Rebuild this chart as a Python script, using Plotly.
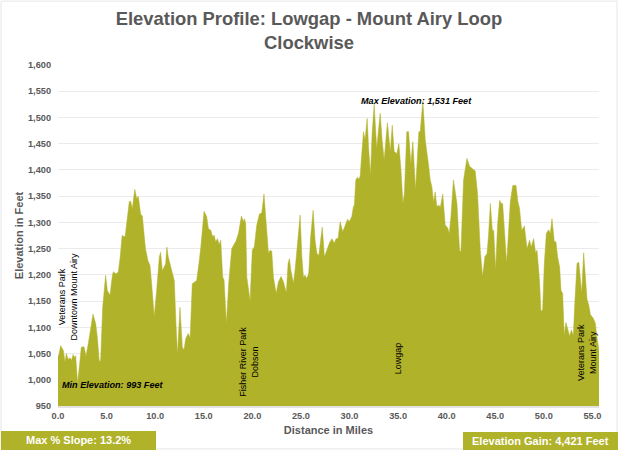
import plotly.graph_objects as go

# Values
miles = [0.0, 0.1, 0.27, 0.55, 0.72, 0.86, 1.06, 1.23, 1.4, 1.55, 1.68, 1.82, 2.02, 2.2, 2.4, 2.68, 2.88, 3.12,
         3.36, 3.6, 3.88, 4.05, 4.25, 4.39, 4.6, 4.9, 5.08, 5.35, 5.6, 5.7, 5.93, 6.2, 6.4, 6.6, 6.9, 7.13, 7.34,
         7.48, 7.65, 7.9, 8.1, 8.27, 8.5, 8.68, 8.85, 9.0, 9.26, 9.47, 9.64, 9.9, 10.15, 10.43, 10.56, 10.74, 11.08,
         11.2, 11.35, 11.7, 11.97, 12.14, 12.3, 12.55, 12.8, 12.97, 13.14, 13.4, 13.6, 13.82, 14.1, 14.27, 14.5,
         14.7, 15.03, 15.3, 15.48, 15.72, 15.92, 16.06, 16.23, 16.4, 16.6, 16.75, 16.95, 17.09, 17.33, 17.57, 17.88,
         18.16, 18.33, 18.57, 18.74, 18.88, 19.08, 19.18, 19.32, 19.43, 19.77, 20.0, 20.2, 20.46, 20.73, 20.97, 21.2,
         21.4, 21.66, 21.83, 22.0, 22.17, 22.45, 22.69, 22.96, 23.2, 23.5, 23.68, 23.82, 23.96, 24.16, 24.23, 24.4,
         24.64, 24.92, 25.1, 25.26, 25.43, 25.6, 25.8, 26.0, 26.26, 26.46, 26.64, 26.84, 27.2, 27.42, 27.67, 27.94,
         28.2, 28.42, 28.62, 28.82, 29.04, 29.3, 29.52, 29.8, 29.97, 30.24, 30.4, 30.5, 30.65, 30.82, 30.96, 31.1,
         31.24, 31.44, 31.6, 31.82, 31.96, 32.16, 32.33, 32.54, 32.8, 33.16, 33.36, 33.57, 33.9, 34.2, 34.4, 34.6,
         34.87, 35.08, 35.3, 35.5, 35.65, 35.9, 36.08, 36.32, 36.52, 36.8, 37.14, 37.28, 37.55, 37.8, 38.14, 38.31,
         38.48, 38.65, 38.82, 38.99, 39.2, 39.34, 39.6, 39.85, 40.1, 40.27, 40.44, 40.7, 41.06, 41.33, 41.47, 41.74,
         42.09, 42.36, 42.6, 42.94, 43.18, 43.46, 43.7, 43.94, 44.15, 44.3, 44.5, 44.7, 44.84, 45.04, 45.25, 45.45,
         45.62, 45.76, 45.97, 46.17, 46.38, 46.55, 46.8, 47.13, 47.34, 47.5, 47.72, 48.0, 48.27, 48.54, 48.7, 48.95,
         49.16, 49.3, 49.47, 49.57, 49.7, 49.88, 50.05, 50.26, 50.5, 50.67, 50.84, 51.08, 51.25, 51.42, 51.63, 51.77,
         51.94, 52.1, 52.28, 52.5, 52.66, 52.83, 53.04, 53.2, 53.42, 53.6, 53.9, 54.1, 54.27, 54.45, 54.62, 54.8,
         55.06, 55.3, 55.47, 55.68]
elevation = [1045, 1048, 1065, 1056, 1034, 1050, 1038, 1042, 1037, 1048, 1043, 1046, 993, 1030, 1062, 1063, 1045, 1069,
             1094, 1125, 1107, 1081, 1035, 1037, 1138, 1199, 1170, 1161, 1199, 1206, 1202, 1205, 1234, 1275, 1272, 1308, 1340,
             1340, 1326, 1363, 1345, 1350, 1316, 1312, 1270, 1250, 1227, 1218, 1183, 1120, 1170, 1234, 1243, 1208, 1221,
             1253, 1234, 1208, 1189, 1107, 1047, 1138, 1062, 1057, 1078, 1088, 1080, 1183, 1186, 1189, 1221,
             1253, 1321, 1311, 1288, 1285, 1272, 1276, 1263, 1269, 1258, 1266, 1196, 1190, 1107, 1184, 1250,
             1260, 1265, 1279, 1295, 1312, 1301, 1307, 1298, 1196, 1150, 1248, 1253, 1295, 1316, 1318, 1354,
             1298, 1241, 1247, 1245, 1196, 1165, 1187, 1197, 1187, 1166, 1222, 1231, 1209, 1193, 1184, 1209,
             1253, 1314, 1234, 1196, 1199, 1193, 1202, 1272, 1323, 1266, 1241, 1237, 1291, 1234, 1247, 1261,
             1269, 1260, 1269, 1269, 1301, 1282, 1292, 1306, 1301, 1311, 1330, 1333, 1381, 1386, 1382, 1388,
             1425, 1473, 1457, 1498, 1444, 1390, 1470, 1525, 1441, 1508, 1457, 1419, 1490, 1435, 1485, 1435,
             1431, 1450, 1400, 1336, 1355, 1473, 1473, 1412, 1454, 1362, 1473, 1473, 1531, 1457, 1409, 1381,
             1368, 1339, 1358, 1330, 1333, 1328, 1354, 1295, 1290, 1279, 1311, 1381, 1336, 1247, 1244, 1381,
             1422, 1407, 1403, 1398, 1355, 1247, 1197, 1235, 1240, 1272, 1336, 1285, 1285, 1209, 1298, 1342,
             1336, 1336, 1279, 1222, 1285, 1339, 1370, 1371, 1339, 1327, 1285, 1293, 1250, 1266, 1253, 1269,
             1241, 1247, 1209, 1185, 1131, 1133, 1221, 1279, 1286, 1279, 1307, 1263, 1263, 1234, 1215, 1170,
             1165, 1085, 1109, 1095, 1083, 1095, 1085, 1150, 1222, 1224, 1165, 1242, 1197, 1153, 1143, 1124,
             1118, 1108, 1080, 1056]

y_ticks = [950, 1000, 1050, 1100, 1150, 1200, 1250, 1300, 1350, 1400, 1450, 1500, 1550, 1600]
x_ticks = [0, 5, 10, 15, 20, 25, 30, 35, 40, 45, 50, 55]

# Size of the picture and the plot area, in pixels
WIDTH, HEIGHT = 618, 450
LEFT, RIGHT, TOP, BOTTOM = 58, 599, 64.5, 406

OLIVE = "#B0B22A"
GREY = "#595959"
GRID = "#EBEBEB"
FONT = "Liberation Sans"


# pixel position -> paper coordinates
def px(x):
    return (x - LEFT) / (RIGHT - LEFT)


def py(y):
    return (BOTTOM - y) / (BOTTOM - TOP)


fig = go.Figure()
fig.add_trace(go.Scatter(x=miles, y=elevation, mode="lines", fill="tozeroy",
                         fillcolor=OLIVE, line=dict(color=OLIVE, width=0.5),
                         hoverinfo="x+y", showlegend=False))

fig.update_layout(
    width=WIDTH, height=HEIGHT,
    margin=dict(l=LEFT, r=WIDTH - RIGHT, t=TOP, b=HEIGHT - BOTTOM, autoexpand=False),
    paper_bgcolor="white", plot_bgcolor="white",
    font=dict(family=FONT, color=GREY),
    title=dict(text="<b>Elevation Profile: Lowgap - Mount Airy Loop<br>Clockwise</b>",
               x=0.5, xanchor="center", y=0.945, yanchor="top",
               font=dict(family=FONT, size=18.4, color=GREY)),
    xaxis=dict(range=[0, 55.68], tickvals=x_ticks, tickformat=".1f", showgrid=False, zeroline=False,
               showline=True, linecolor="#E2E2E2", linewidth=2, ticks="",
               tickfont=dict(family=FONT, size=9.2, color=GREY, weight="bold"),
               title=dict(text="<b>Distance in Miles</b>", standoff=6, font=dict(size=11, color=GREY))),
    yaxis=dict(range=[950, 1600], tickvals=y_ticks, tickformat=",", showgrid=True, gridcolor=GRID, gridwidth=1.3,
               zeroline=False, ticks="", showline=False, ticklabelstandoff=6,
               tickfont=dict(family=FONT, size=9.2, color=GREY, weight="bold"),
               title=dict(text="<b>Elevation in Feet</b>", standoff=2, font=dict(size=11, color=GREY))),
)

# Labels on the chart
fig.add_annotation(x=31.0, y=1531, text="<b><i>Max Elevation: 1,531 Feet</i></b>", showarrow=False,
                   font=dict(size=9.1, color="black"), xanchor="left", yanchor="middle")
fig.add_annotation(x=0.2, y=990, text="<b><i>Min Elevation: 993 Feet</i></b>", showarrow=False,
                   font=dict(size=9.1, color="black"), xanchor="left", yanchor="middle")
for x, y, label in [(1.0, 1158, "Veterans Park<br>Downtown Mount Airy"),
                    (19.65, 1034, "Fisher River Park<br>Dobson"),
                    (35.0, 1041, "Lowgap"),
                    (54.45, 1051, "Veterans Park<br>Mount Airy")]:
    fig.add_annotation(x=x, y=y, text=label, textangle=-90, showarrow=False,
                       font=dict(size=9, color="black"), xanchor="center", yanchor="middle")

# Stat boxes below the plot
for x0, x1, y0, label in [(1, 156, 431, "Max % Slope: 13.2%"),
                          (463, 618, 432, "Elevation Gain: 4,421 Feet")]:
    fig.add_shape(type="rect", xref="paper", yref="paper", x0=px(x0), x1=px(x1), y0=py(y0), y1=py(450),
                  fillcolor=OLIVE, line=dict(width=0))
    fig.add_annotation(xref="paper", yref="paper", x=px((x0 + x1) / 2), y=py((y0 + 450) / 2),
                       text=f"<b>{label}</b>", showarrow=False, font=dict(size=11, color="white"),
                       xanchor="center", yanchor="middle")

# Thin frame round the whole chart
fig.add_shape(type="rect", xref="paper", yref="paper", x0=px(1), x1=px(617), y0=py(449), y1=py(0.5),
              line=dict(color="#E6E6E6", width=1), layer="below")

# Drop the browser's default page margin so the figure fills the window
fig.write_html("out.html", config={"displayModeBar": False},
               post_script="document.body.style.margin = '0';")
